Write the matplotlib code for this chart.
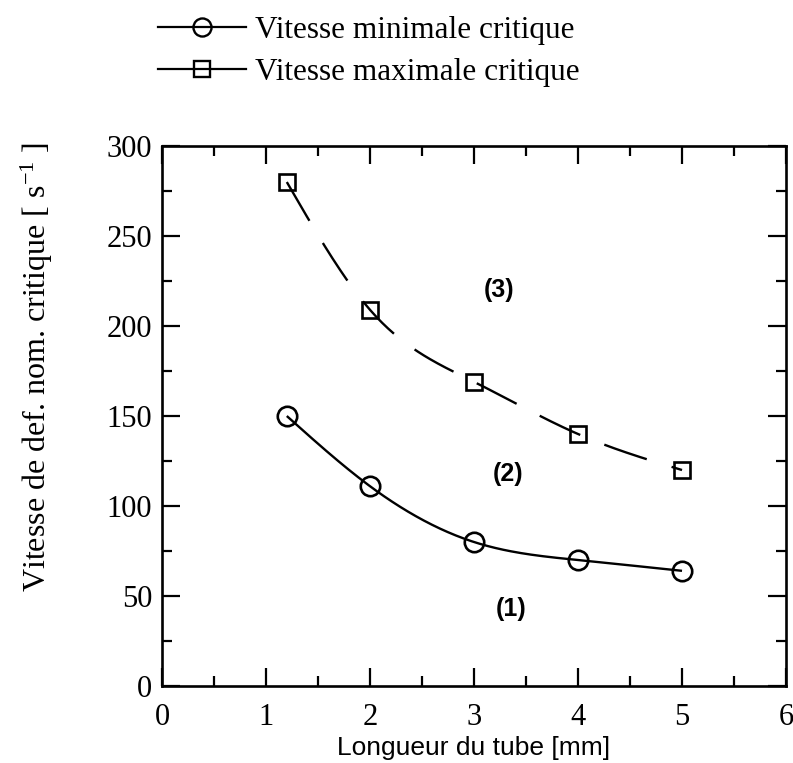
import numpy as np
import matplotlib
matplotlib.use("Agg")
import matplotlib.pyplot as plt
from matplotlib.lines import Line2D

# Tube length [mm] and critical nominal strain rates [1/s]
tube_length = [1.2, 2.0, 3.0, 4.0, 5.0]
v_min_crit = [150, 111, 80, 70, 64]
v_max_crit = [280, 209, 169, 140, 120]

series_labels = ["Vitesse minimale critique", "Vitesse maximale critique"]
region_labels = ["(1)", "(2)", "(3)"]
region_pos = [(3.36, 43), (3.33, 118), (3.24, 220)]

x_ticks = [0, 1, 2, 3, 4, 5, 6]
y_ticks = [0, 50, 100, 150, 200, 250, 300]


def natural_spline(x, y, n=200):
    """Natural cubic spline through the points, sampled for a smooth line."""
    x = np.asarray(x, float)
    y = np.asarray(y, float)
    k = len(x)
    h = np.diff(x)
    A = np.zeros((k, k))
    r = np.zeros(k)
    A[0, 0] = A[-1, -1] = 1.0
    for i in range(1, k - 1):
        A[i, i - 1] = h[i - 1]
        A[i, i] = 2 * (h[i - 1] + h[i])
        A[i, i + 1] = h[i]
        r[i] = 6 * ((y[i + 1] - y[i]) / h[i] - (y[i] - y[i - 1]) / h[i - 1])
    M = np.linalg.solve(A, r)
    xs = np.linspace(x[0], x[-1], n)
    idx = np.clip(np.searchsorted(x, xs) - 1, 0, k - 2)
    x0, x1 = x[idx], x[idx + 1]
    hh = x1 - x0
    a = (x1 - xs) / hh
    b = (xs - x0) / hh
    ys = (a * y[idx] + b * y[idx + 1]
          + ((a ** 3 - a) * M[idx] + (b ** 3 - b) * M[idx + 1]) * hh ** 2 / 6)
    return xs, ys


plt.rcParams["font.family"] = ["Liberation Serif", "DejaVu Serif"]
plt.rcParams["mathtext.default"] = "regular"
sans = ["Liberation Sans", "DejaVu Sans"]

fig = plt.figure(figsize=(7.93, 7.63), dpi=100)
ax = fig.add_axes([0.2043, 0.1009, 0.7869, 0.7077])

lw = 1.7
xs, ys = natural_spline(tube_length, v_min_crit)
ax.plot(xs, ys, color="black", lw=lw, solid_capstyle="butt")
ax.plot(tube_length, v_min_crit, ls="none", marker="o", ms=14,
        mfc="none", mec="black", mew=1.9)

xs, ys = natural_spline(tube_length, v_max_crit)
ax.plot(xs, ys, color="black", lw=lw, ls=(0, (19, 11)), dash_capstyle="butt")
ax.plot(tube_length, v_max_crit, ls="none", marker="s", ms=12,
        mfc="none", mec="black", mew=1.9)

for txt, (px, py) in zip(region_labels, region_pos):
    ax.text(px, py, txt, ha="center", va="center", fontsize=18,
            family=sans, fontweight="bold")

ax.set_xlim(0, 6)
ax.set_ylim(0, 300)
ax.set_xticks(x_ticks)
ax.set_yticks(y_ticks)
ax.set_xticks(np.arange(0.5, 6, 1.0), minor=True)
ax.set_yticks(np.arange(25, 300, 50), minor=True)
ax.tick_params(which="both", direction="in", top=True, right=True,
               width=1.6, labelsize=22)
ax.tick_params(which="major", length=13)
ax.tick_params(axis="x", which="major", pad=12)
ax.tick_params(axis="y", which="major", pad=7)
ax.tick_params(which="minor", length=7)
for s in ax.spines.values():
    s.set_linewidth(1.9)

ax.set_xlabel("Longueur du tube [mm]", fontsize=19, family=sans,
              va="center")
ax.xaxis.set_label_coords(0.5, -0.115)
ax.set_ylabel("Vitesse de def. nom. critique [ s$^{-1}$ ]", fontsize=23)
ax.yaxis.set_label_coords(-0.172, 0.59)

handles = [
    Line2D([], [], color="black", lw=1.6, marker="o", ms=13, mfc="none",
           mew=1.7),
    Line2D([], [], color="black", lw=1.6, marker="s", ms=12, mfc="none",
           mew=1.7),
]
fig.legend(handles, series_labels, loc="upper left",
           bbox_to_anchor=(0.18, 1.0), frameon=False, fontsize=22.5,
           handlelength=2.8, handletextpad=0.3, labelspacing=0.42,
           borderaxespad=0.1)

fig.savefig("out.png", dpi=100)
